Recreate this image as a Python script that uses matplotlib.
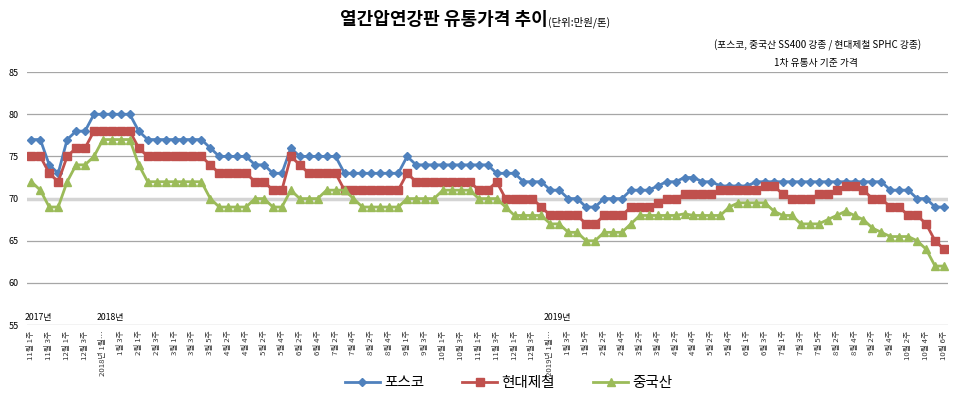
import numpy as np
import matplotlib
matplotlib.use('Agg')
import matplotlib.pyplot as plt

plt.rcParams['font.family'] = ['Noto Sans CJK KR', 'DejaVu Sans']

# week labels (every other category is labelled)
labels = ['11월 1주', '11월 3주', '12월 1주', '12월 3주', '2018년 1월…', '1월 3주', '2월 1주', '2월 3주',
          '3월 1주', '3월 3주', '3월 5주', '4월 2주', '4월 4주', '5월 2주', '5월 4주', '6월 2주', '6월 4주',
          '7월 2주', '7월 4주', '8월 2주', '8월 4주', '9월 1주', '9월 3주', '10월 1주', '10월 3주',
          '11월 1주', '11월 3주', '12월 1주', '12월 3주', '2019년 1월…', '1월 3주', '1월 5주', '2월 2주',
          '2월 4주', '3월 2주', '3월 4주', '4월 2주', '4월 4주', '5월 2주', '5월 4주', '6월 1주', '6월 3주',
          '7월 1주', '7월 3주', '7월 5주', '8월 2주', '8월 4주', '9월 2주', '9월 4주', '10월 2주',
          '10월 4주', '10월 6주']

posco = ([77, 77, 74, 73, 77, 78, 78] + [80] * 5 + [78] + [77] * 7 + [76] + [75] * 4 + [74, 74, 73, 73, 76]
         + [75] * 5 + [73] * 7 + [75] + [74] * 9 + [73] * 3 + [72] * 3 + [71, 71, 70, 70, 69, 69]
         + [70] * 3 + [71] * 3 + [71.5, 72, 72, 72.5, 72.5, 72, 72] + [71.5] * 4 + [72] * 15
         + [71] * 3 + [70, 70, 69, 69])
hyundai = ([75, 75, 73, 72, 75, 76, 76] + [78] * 5 + [76] + [75] * 7 + [74] + [73] * 4 + [72, 72, 71, 71, 75, 74]
           + [73] * 4 + [71] * 7 + [73] + [72] * 7 + [71, 71, 72] + [70] * 4 + [69] + [68] * 4 + [67, 67]
           + [68] * 3 + [69] * 3 + [69.5, 70, 70] + [70.5] * 4 + [71] * 5 + [71.5, 71.5, 70.5, 70, 70, 70,
           70.5, 70.5, 71, 71.5, 71.5, 71, 70, 70, 69, 69, 68, 68, 67, 65, 64])
china = ([72, 71, 69, 69, 72, 74, 74, 75] + [77] * 4 + [74] + [72] * 7 + [70] + [69] * 4 + [70, 70, 69, 69, 71]
         + [70] * 3 + [71] * 3 + [70] + [69] * 5 + [70] * 4 + [71] * 4 + [70] * 3 + [69] + [68] * 4
         + [67, 67, 66, 66, 65, 65] + [66] * 3 + [67] + [68] * 5 + [68.2] + [68] * 4 + [69] + [69.5] * 4
         + [68.5, 68, 68, 67, 67, 67, 67.5, 68, 68.5, 68, 67.5, 66.5, 66, 65.5, 65.5, 65.5, 65, 64, 62, 62])

years = ['2017년', '2018년', '2019년']
year_pos = [0, 8, 58]

x = np.arange(len(posco))

fig = plt.figure(figsize=(9.6, 3.96), dpi=100)
ax = fig.add_axes([0.028, 0.179, 0.96, 0.639])

for v in [60, 65, 75, 80, 85]:
    ax.axhline(v, color='#a6a6a6', lw=0.9, zorder=0)
ax.axhline(70, color='#d4d4d4', lw=2.5, zorder=0)
ax.axhline(55, color='#a6a6a6', lw=0.9, zorder=0)

ax.plot(x, posco, color='#4f81bd', lw=2, marker='D', ms=4, label='포스코')
ax.plot(x, hyundai, color='#c0504d', lw=2, marker='s', ms=5.5, label='현대제철')
ax.plot(x, china, color='#9bbb59', lw=2, marker='^', ms=6, label='중국산')

ax.set_xlim(-0.5, len(posco) - 0.5)
ax.set_ylim(55, 85)
ax.set_yticks([55, 60, 65, 70, 75, 80, 85])
ax.tick_params(axis='y', length=0, labelsize=6.5, pad=6)
ax.set_xticks(x[::2])
ax.set_xticklabels(labels, rotation=90, fontsize=5.6, color='#333333')
ax.tick_params(axis='x', length=0, pad=4)
for s in ax.spines.values():
    s.set_visible(False)

for name, p in zip(years, year_pos):
    ax.text(p - 0.7, 55.4, name, fontsize=6.3, ha='left', va='bottom')

fig.text(0.462, 0.952, '열간압연강판 유통가격 추이', fontsize=13, fontweight='bold', ha='center', va='center')
fig.text(0.571, 0.943, '(단위:만원/톤)', fontsize=7.5, ha='left', va='center')
fig.text(0.96, 0.885, '(포스코, 중국산 SS400 강종 / 현대제철 SPHC 강종)', fontsize=7, ha='right', va='center')
fig.text(0.85, 0.842, '1차 유통사 기준 가격', fontsize=7, ha='center', va='center')

fig.legend(loc='center', bbox_to_anchor=(0.53, 0.032), ncol=3, frameon=False, fontsize=10.5,
           handlelength=2.4, columnspacing=2.6, handletextpad=0.3)

plt.savefig('out.png', dpi=100)
